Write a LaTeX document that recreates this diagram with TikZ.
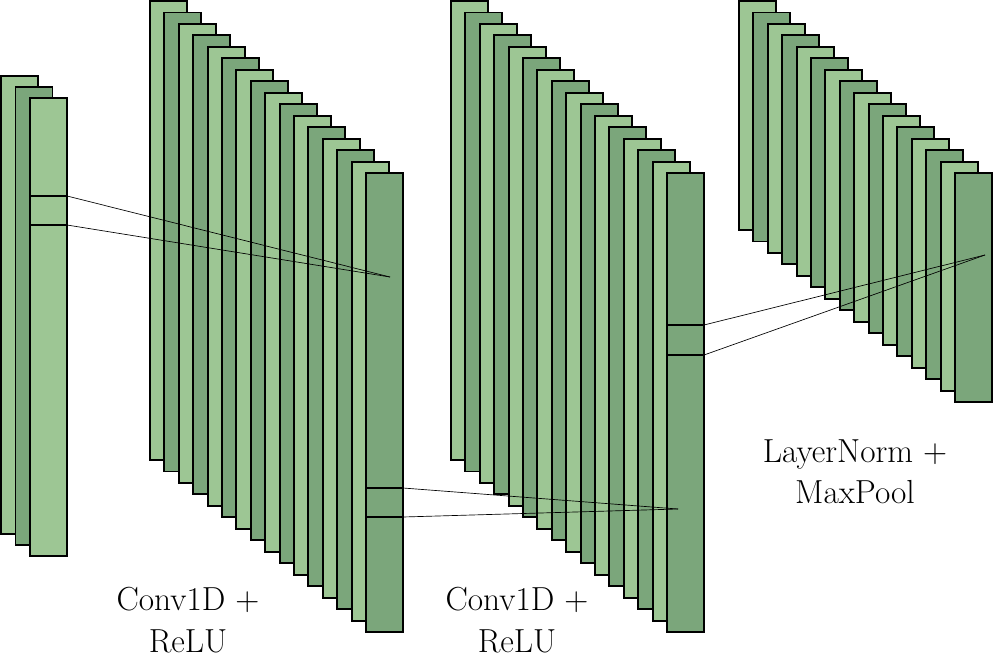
\documentclass[tikz,border=0pt]{standalone}
\definecolor{lg}{HTML}{9DC694}
\definecolor{dg}{HTML}{7BA67B}
\begin{document}
\begin{tikzpicture}[x=0.75pt,y=-0.75pt,
  lay/.style={draw=black,line width=1.4pt},
  conn/.style={draw=black,line width=0.5pt},
  lbl/.style={align=center,font=\fontsize{25}{31}\selectfont}]
\useasboundingbox (0,0) rectangle (994,660);
% stack 1
\foreach \i in {0,1,2}{
  \pgfmathsetmacro{\xx}{1+14.5*\i}\pgfmathsetmacro{\yy}{76+11.2*\i}
  \pgfmathtruncatemacro{\odd}{mod(\i,2)}
  \ifnum\odd=1 \def\fc{dg}\else\def\fc{lg}\fi
  \filldraw[lay,fill=\fc] (\xx,\yy) rectangle ++(37,458);
}
\coordinate (a1) at (67,196); \coordinate (a2) at (67,225);
\draw[lay] (30,196) -- (a1); \draw[lay] (30,225) -- (a2);
% stack 2,3
\foreach \sx in {150,451}{
\foreach \i in {0,...,15}{
  \pgfmathsetmacro{\xx}{\sx+14.4*\i}\pgfmathsetmacro{\yy}{1+11.47*\i}
  \pgfmathtruncatemacro{\odd}{mod(\i,2)}
  \ifnum\odd=1 \def\fc{dg}\else\def\fc{lg}\fi
  \filldraw[lay,fill=\fc] (\xx,\yy) rectangle ++(37,459);
}}
% stack 4
\foreach \i in {0,...,15}{
  \pgfmathsetmacro{\xx}{739+14.4*\i}\pgfmathsetmacro{\yy}{1+11.47*\i}
  \pgfmathtruncatemacro{\odd}{mod(\i,2)}
  \ifnum\odd=1 \def\fc{dg}\else\def\fc{lg}\fi
  \filldraw[lay,fill=\fc] (\xx,\yy) rectangle ++(37,229);
}
\coordinate (t1) at (390,277);
\draw[conn] (a1) -- (t1); \draw[conn] (a2) -- (t1);
\coordinate (b1) at (403,488); \coordinate (b2) at (403,517);
\draw[lay] (366,488) -- (b1); \draw[lay] (366,517) -- (b2);
\coordinate (t2) at (678,509);
\draw[conn] (b1) -- (t2); \draw[conn] (b2) -- (t2);
\coordinate (c1) at (704,325); \coordinate (c2) at (704,355);
\draw[lay] (667,325) -- (c1); \draw[lay] (667,355) -- (c2);
\coordinate (t3) at (985,255);
\draw[conn] (c1) -- (t3); \draw[conn] (c2) -- (t3);
\node[lbl] (l1) at (188,620) {Conv1D +\\ReLU};
\node[lbl] (l2) at (517,620) {Conv1D +\\ReLU};
\node[lbl] (l3) at (855,472) {LayerNorm +\\MaxPool};
\end{tikzpicture}
\end{document}
